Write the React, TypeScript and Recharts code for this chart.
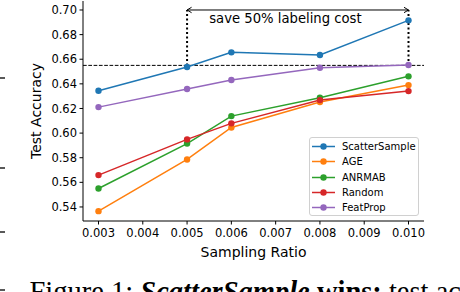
import React from "react";
import {
  Line,
  LineChart,
  ReferenceDot,
  ReferenceLine,
  XAxis,
  YAxis
} from "recharts";

// sampling ratios on the x axis
const ratios = [0.003, 0.005, 0.006, 0.008, 0.01];

// test accuracy per method
const scatterSample = [0.6344, 0.6537, 0.6656, 0.6634, 0.6916];
const age = [0.5366, 0.5786, 0.6046, 0.6252, 0.639];
const anrmab = [0.555, 0.5915, 0.6138, 0.6287, 0.6461];
const random = [0.5659, 0.5949, 0.6079, 0.6268, 0.6341];
const featProp = [0.6211, 0.6358, 0.6431, 0.6531, 0.6553];

const xTicks = [0.003, 0.004, 0.005, 0.006, 0.007, 0.008, 0.009, 0.01];
const yTicks = [0.54, 0.56, 0.58, 0.6, 0.62, 0.64, 0.66, 0.68, 0.7];

const baselineAcc = 0.655;
const arrowFrom = 0.005;
const arrowTo = 0.01;
const arrowY = 0.7;
const annotationText = "save 50% labeling cost";
const annotationX = 0.0055;
const annotationY = 0.6898;

const captionParts = [
  { text: "Figure 1: ", weight: "normal", style: "normal" },
  { text: "ScatterSample", weight: "bold", style: "italic" },
  { text: " wins:", weight: "bold", style: "normal" },
  { text: " test ac", weight: "normal", style: "normal" }
];

const series = [
  { key: "scatterSample", name: "ScatterSample", color: "#1f77b4", values: scatterSample },
  { key: "age", name: "AGE", color: "#ff7f0e", values: age },
  { key: "anrmab", name: "ANRMAB", color: "#2ca02c", values: anrmab },
  { key: "random", name: "Random", color: "#d62728", values: random },
  { key: "featProp", name: "FeatProp", color: "#9467bd", values: featProp }
];

const data = ratios.map((ratio, i) => {
  const row: Record<string, number> = { ratio };
  series.forEach((s) => {
    row[s.key] = s.values[i];
  });
  return row;
});

const font = "DejaVu Sans";
const tickStyle = { fontSize: 11.5, fill: "#000", fontFamily: font };

function ArrowShape(props: any): React.ReactElement {
  const { x1, y1, x2, y2 } = props;
  const h = 4.5;
  return (
    <g>
      <line x1={x1} y1={y1} x2={x2} y2={y2} stroke="#000" strokeWidth={1} />
      <polyline
        points={`${x1 + h},${y1 - h * 0.6} ${x1},${y1} ${x1 + h},${y1 + h * 0.6}`}
        fill="none"
        stroke="#000"
        strokeWidth={1}
      />
      <polyline
        points={`${x2 - h},${y2 - h * 0.6} ${x2},${y2} ${x2 - h},${y2 + h * 0.6}`}
        fill="none"
        stroke="#000"
        strokeWidth={1}
      />
    </g>
  );
}

function AnnotationShape(props: any): React.ReactElement {
  return (
    <text x={props.cx} y={props.cy} fontSize={13.2} fontFamily={font} fill="#000">
      {annotationText}
    </text>
  );
}

function LegendBox(): React.ReactElement {
  return (
    <div
      style={{
        position: "absolute",
        left: 309,
        top: 137,
        width: 110,
        height: 79,
        boxSizing: "border-box",
        border: "1px solid #d0d0d0",
        borderRadius: 3,
        background: "rgba(255,255,255,0.8)",
        paddingTop: 1
      }}
    >
      {series.map((s) => (
        <div key={s.key} style={{ position: "relative", height: 15.3 }}>
          <svg width={30} height={15} style={{ position: "absolute", left: 1, top: 0 }}>
            <line x1={1} y1={7.5} x2={24} y2={7.5} stroke={s.color} strokeWidth={1.5} />
            <circle cx={12.5} cy={7.5} r={3.2} fill={s.color} />
          </svg>
          <span
            style={{
              position: "absolute",
              left: 32,
              top: 0,
              fontFamily: font,
              fontSize: 10,
              lineHeight: "15px",
              color: "#000",
              whiteSpace: "nowrap"
            }}
          >
            {s.name}
          </span>
        </div>
      ))}
    </div>
  );
}

export default function App(): React.ReactElement {
  return (
    <div
      style={{
        position: "absolute",
        left: 0,
        top: 0,
        width: 460,
        height: 292,
        overflow: "hidden",
        background: "#fff"
      }}
    >
      <LineChart
        width={460}
        height={292}
        data={data}
        margin={{ top: 1, right: 36, bottom: 31, left: 0 }}
      >
        <XAxis
          dataKey="ratio"
          type="number"
          domain={[0.00265, 0.01035]}
          ticks={xTicks}
          interval={0}
          tickFormatter={(v: number) => v.toFixed(3)}
          tick={tickStyle}
          tickSize={3.5}
          tickMargin={4.5}
          stroke="#000"
          height={40}
          allowDataOverflow
          label={{
            value: "Sampling Ratio",
            position: "insideBottom",
            offset: 4,
            style: { fontSize: 14, fill: "#000", fontFamily: font }
          }}
        />
        <XAxis
          xAxisId="top"
          orientation="top"
          type="number"
          domain={[0.00265, 0.01035]}
          height={0}
          tick={false}
          tickLine={false}
          stroke="#000"
        />
        <YAxis
          type="number"
          domain={[0.5286, 0.7073]}
          ticks={yTicks}
          interval={0}
          tickFormatter={(v: number) => v.toFixed(2)}
          tick={tickStyle}
          tickSize={3.5}
          tickMargin={2.5}
          stroke="#000"
          width={83}
          allowDataOverflow
          label={{
            content: () => (
              <text
                x={40.5}
                y={111}
                transform="rotate(-90 40.5 111)"
                textAnchor="middle"
                fontSize={14}
                fontFamily={font}
                fill="#000"
              >
                Test Accuracy
              </text>
            )
          }}
        />
        <YAxis
          yAxisId="right"
          orientation="right"
          width={0}
          tick={false}
          tickLine={false}
          stroke="#000"
        />
        <ReferenceLine
          y={baselineAcc}
          stroke="#000"
          strokeWidth={1}
          strokeDasharray="3.7 1.6"
        />
        <ReferenceLine
          segment={[
            { x: arrowFrom, y: baselineAcc },
            { x: arrowFrom, y: arrowY }
          ]}
          stroke="#000"
          strokeWidth={2}
          strokeDasharray="2 2.5"
        />
        <ReferenceLine
          segment={[
            { x: arrowTo, y: baselineAcc },
            { x: arrowTo, y: arrowY }
          ]}
          stroke="#000"
          strokeWidth={2}
          strokeDasharray="2 2.5"
        />
        <ReferenceLine
          segment={[
            { x: arrowFrom, y: arrowY },
            { x: arrowTo, y: arrowY }
          ]}
          shape={ArrowShape}
        />
        <ReferenceDot x={annotationX} y={annotationY} shape={AnnotationShape} />
        {series.map((s) => (
          <Line
            key={s.key}
            type="linear"
            dataKey={s.key}
            name={s.name}
            stroke={s.color}
            strokeWidth={1.5}
            dot={{ r: 3.2, fill: s.color, stroke: "none" }}
            activeDot={false}
            isAnimationActive={false}
          />
        ))}
      </LineChart>
      <LegendBox />
      <svg
        width={460}
        height={292}
        style={{ position: "absolute", left: 0, top: 0, pointerEvents: "none" }}
      >
        {[78, 168, 232, 290].map((y) => (
          <line key={y} x1={0} y1={y} x2={5} y2={y} stroke="#222" strokeWidth={1.5} />
        ))}
        <text x={29.5} y={301} fontSize={28.5} fontFamily="Liberation Serif" fill="#000">
          {captionParts.map((p, i) => (
            <tspan key={i} fontWeight={p.weight} fontStyle={p.style}>
              {p.text}
            </tspan>
          ))}
        </text>
      </svg>
    </div>
  );
}
